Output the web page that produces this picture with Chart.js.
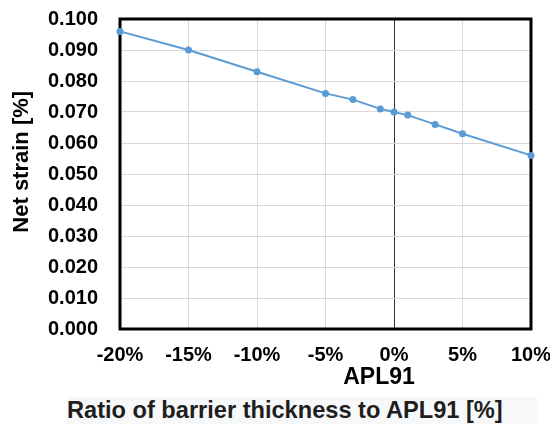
<!DOCTYPE html>
<html>
<head>
<meta charset="utf-8">
<script src="https://cdn.jsdelivr.net/npm/chart.js@4/dist/chart.umd.min.js"></script>
<style>
    body { margin: 0; background: #fff; }
    #wrap { position: relative; width: 550px; height: 426px; }
    #caption {
        position: absolute; left: 67px; top: 397px; width: 470px; height: 27px;
        background: #f7f8fa; color: #1e1e1e;
        font: bold 23.6px "Liberation Sans", Arial, sans-serif;
        line-height: 27px; white-space: nowrap;
    }
    #xTitle {
        position: absolute; left: 279px; top: 363px; width: 200px;
        text-align: center; color: #000;
        font: bold 23px "Liberation Sans", Arial, sans-serif;
        line-height: 26px;
    }
</style>
</head>
<body>
<div id="wrap">
    <canvas id="strainChart" width="550" height="426"></canvas>
    <div id="xTitle"></div>
    <div id="caption">Ratio of barrier thickness to APL91 [%]</div>
</div>
<script>
// Datos
const ratios = [-20, -15, -10, -5, -3, -1, 0, 1, 3, 5, 10];
const netStrain = [0.096, 0.090, 0.083, 0.076, 0.074, 0.071, 0.070, 0.069, 0.066, 0.063, 0.056];
const xTitle = 'APL91';
const yTitle = 'Net strain [%]';

const FONT = '"Liberation Sans", Arial, sans-serif';

// El titulo del eje x va debajo del 0%, no centrado en el eje
document.getElementById('xTitle').textContent = xTitle;

// Marco negro alrededor del area del grafico
const frame = {
    id: 'frame',
    beforeDatasetsDraw(chart) {
        const a = chart.chartArea;
        const ctx = chart.ctx;
        ctx.save();
        ctx.strokeStyle = '#000';
        ctx.lineWidth = 3;
        ctx.strokeRect(a.left, a.top, a.right - a.left, a.bottom - a.top);
        ctx.restore();
    }
};

const points = ratios.map((r, i) => ({ x: r, y: netStrain[i] }));

const config = {
    type: 'line',
    data: {
        datasets: [{
            data: points,
            borderColor: '#5b9bd5',
            backgroundColor: '#5b9bd5',
            borderWidth: 2,
            pointRadius: 3.5,
            pointBorderWidth: 0,
            tension: 0,
            clip: false,
        }],
    },
    options: {
        responsive: false,
        animation: false,
        layout: { padding: { top: 19, right: 19, left: 0, bottom: 0 } },
        plugins: { legend: { display: false }, tooltip: { enabled: false } },
        scales: {
            x: {
                type: 'linear',
                min: -20,
                max: 10,
                afterFit(scale) {
                    scale.height = 97;
                    scale.paddingLeft = 0;
                    scale.paddingRight = 0;
                },
                border: { display: false },
                grid: {
                    drawTicks: false,
                    color: c => c.tick && c.tick.value === 0 ? '#333' : '#d9d9d9',
                    lineWidth: 1,
                },
                ticks: {
                    stepSize: 5,
                    padding: 14,
                    color: '#000',
                    font: { family: FONT, size: 20, weight: 'bold' },
                    callback: v => v + '%',
                },
            },
            y: {
                min: 0,
                max: 0.1,
                afterFit(scale) {
                    scale.width = 120;
                    scale.paddingTop = 0;
                    scale.paddingBottom = 0;
                },
                border: { display: false },
                grid: { drawTicks: false, color: '#d9d9d9', lineWidth: 1 },
                ticks: {
                    stepSize: 0.01,
                    padding: 22,
                    color: '#000',
                    font: { family: FONT, size: 20, weight: 'bold' },
                    callback: v => v.toFixed(3),
                },
                title: {
                    display: true,
                    // espacios al inicio para subir el texto como en el original
                    text: '    ' + yTitle,
                    color: '#000',
                    font: { family: FONT, size: 22, weight: 'bold' },
                    padding: { top: 9, bottom: 0 },
                },
            },
        },
    },
    plugins: [frame],
};

const ctx = document.getElementById('strainChart').getContext('2d');
new Chart(ctx, config);
</script>
</body>
</html>
